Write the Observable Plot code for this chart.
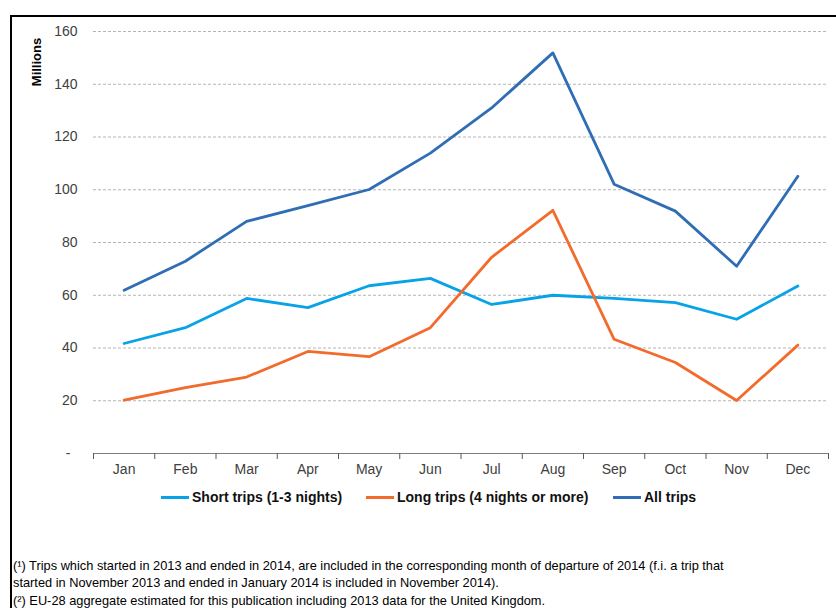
<!DOCTYPE html>
<html>
<head>
<meta charset="utf-8">
<script src="https://cdn.jsdelivr.net/npm/d3@7"></script>
<script src="https://cdn.jsdelivr.net/npm/@observablehq/plot@0.6"></script>
<style>
  html, body { margin: 0; padding: 0; background: #fff; }
  body { width: 836px; height: 608px; overflow: hidden; position: relative; font-family: Arial, "Liberation Sans", sans-serif; }
  #frame { position: absolute; left: 10px; top: 15px; width: 830px; height: 600px; border-top: 2px solid #000; border-left: 2px solid #000; }
  #chart { position: absolute; left: 0; top: 0; }
  #ylabel { position: absolute; left: 36px; top: 62px; transform: translate(-50%, -50%) rotate(-90deg); font-weight: bold; font-size: 13px; color: #000; white-space: nowrap; }
  .leg { position: absolute; top: 489px; display: flex; align-items: center; font-weight: bold; font-size: 14px; color: #111; white-space: nowrap; }
  .leg .sw { width: 28px; height: 3px; margin-right: 3px; }
  #notes { position: absolute; left: 13px; top: 557px; font-size: 12.8px; line-height: 17px; color: #000; }
  #notes p { margin: 0 0 1px 0; }
</style>
</head>
<body>
<div id="frame"></div>
<div id="chart"></div>
<div id="ylabel">Millions</div>
<div id="legend"></div>
<div id="notes">
  <p>(¹) Trips which started in 2013 and ended in 2014, are included in the corresponding month of departure of 2014 (f.i. a trip that<br>started in November 2013 and ended in January 2014 is included in November 2014).</p>
  <p>(²) EU-28 aggregate estimated for this publication including 2013 data for the United Kingdom.</p>
</div>
<script>
const months = ["Jan","Feb","Mar","Apr","May","Jun","Jul","Aug","Sep","Oct","Nov","Dec"];
const seriesNames = ["Short trips (1-3 nights)", "Long trips (4 nights or more)", "All trips"];
const seriesColors = ["#07a3e6", "#f26b2c", "#2f6db5"];
const shortTrips = [41.7, 47.7, 58.8, 55.3, 63.6, 66.4, 56.5, 60.0, 58.8, 57.2, 50.9, 63.5];
const longTrips  = [20.2, 25.0, 29.0, 38.7, 36.7, 47.7, 74.4, 92.2, 43.3, 34.5, 20.1, 41.1];
const allTrips   = [61.9, 72.9, 88.0, 94.0, 100.1, 113.9, 131.0, 151.9, 102.1, 91.9, 71.0, 105.1];
const yTicks = [20, 40, 60, 80, 100, 120, 140, 160];

const values = [shortTrips, longTrips, allTrips];
const rows = [];
values.forEach((arr, s) => arr.forEach((v, i) => rows.push({series: seriesNames[s], month: i, value: v})));

const plot = Plot.plot({
  width: 836,
  height: 480,
  marginTop: 31,
  marginBottom: 27,
  marginLeft: 93,
  marginRight: 8,
  style: { fontFamily: "Arial, 'Liberation Sans', sans-serif", fontSize: "14px", color: "#404040", background: "transparent", overflow: "visible" },
  x: { domain: [0, 12], axis: null },
  y: { domain: [0, 160], axis: null },
  color: { domain: seriesNames, range: seriesColors },
  marks: [
    Plot.gridY(yTicks, { stroke: "#b4b4b4", strokeOpacity: 1, strokeDasharray: "3,2" }),
    Plot.axisY({ ticks: yTicks, tickSize: 0, tickPadding: 16, label: null, fontSize: 14 }),
    Plot.axisY({ ticks: [0], tickSize: 0, tickPadding: 23, tickFormat: () => "-", label: null, fontSize: 14 }),
    Plot.ruleY([0], { stroke: "#7f7f7f", strokeWidth: 1 }),
    Plot.axisX({ ticks: d3.range(13), tickSize: 6, tickFormat: () => "", stroke: "#595959", label: null }),
    Plot.axisX({ ticks: months.map((m, i) => i + 0.5), tickSize: 0, tickPadding: 11, tickFormat: v => months[Math.floor(v)], label: null, fontSize: 14 }),
    Plot.line(rows, { x: d => d.month + 0.5, y: "value", z: "series", stroke: "series", strokeWidth: 2.8, curve: "linear" })
  ]
});
document.getElementById("chart").appendChild(plot);

const legendPos = [161, 366, 613];
const legend = document.getElementById("legend");
seriesNames.forEach((name, i) => {
  const item = document.createElement("div");
  item.className = "leg";
  item.style.left = legendPos[i] + "px";
  item.innerHTML = `<span class="sw" style="background:${seriesColors[i]}"></span><span>${name}</span>`;
  legend.appendChild(item);
});
</script>
</body>
</html>
